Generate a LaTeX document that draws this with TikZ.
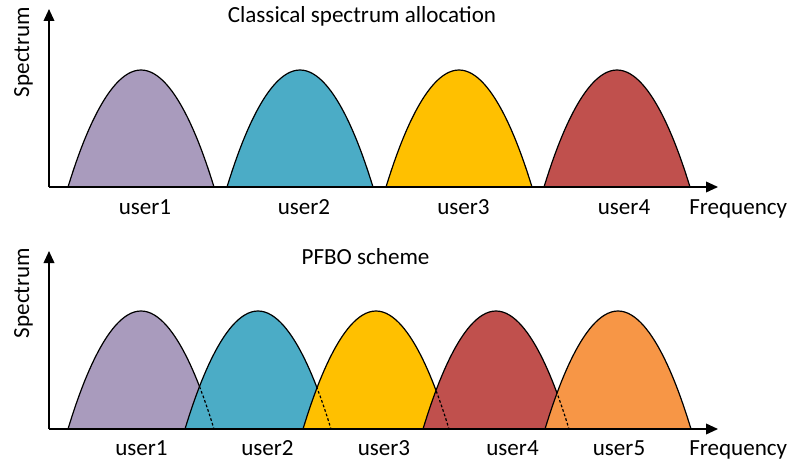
\documentclass[tikz,border=0pt]{standalone}
\usepackage{fontspec}
\setmainfont{Carlito}
\usetikzlibrary{arrows.meta}

\definecolor{userpurple}{HTML}{A99BBD}
\definecolor{userteal}{HTML}{4BACC6}
\definecolor{useryellow}{HTML}{FFC000}
\definecolor{userred}{HTML}{C0504D}
\definecolor{userorange}{HTML}{F79646}

\begin{document}
\begin{tikzpicture}[x=0.75pt, y=-0.75pt, >={Triangle[length=9pt, width=8pt]},
    hump/.style={draw=black, line width=0.9pt},
    overlap/.style={line width=0.9pt, dash pattern=on 2pt off 1.6pt},
    axis/.style={->, line width=1.2pt},
    every node/.style={font=\fontsize{17.3}{20}\selectfont, inner sep=0pt},
    lbl/.style={anchor=base}]

    \useasboundingbox (0,0) rectangle (788,463);

    % Top panel: classical allocation
    \filldraw[hump, fill=userpurple] (68,187) parabola bend (141,70) (214,187);
    \filldraw[hump, fill=userteal] (227,187) parabola bend (300,70) (373,187);
    \filldraw[hump, fill=useryellow] (386,187) parabola bend (459,70) (532,187);
    \filldraw[hump, fill=userred] (544,187) parabola bend (617,70) (690,187);

    \coordinate (topO) at (49,187);
    \coordinate (topY) at (49,9);
    \coordinate (topX) at (718,187);
    \draw[axis] (topO) -- (topY);
    \draw[axis] (topO) -- (topX);

    \node[lbl] (topTitle) at (362,22.5) {Classical spectrum allocation};
    \node[lbl, rotate=90] (topSpec) at (29,52) {Spectrum};
    \node[lbl] (topU1) at (145,215) {user1};
    \node[lbl] (topU2) at (304,215) {user2};
    \node[lbl] (topU3) at (463.5,215) {user3};
    \node[lbl] (topU4) at (624,215) {user4};
    \node[lbl, anchor=base west] (topFreq) at (689,215) {Frequency};

    % Bottom panel: PFBO scheme
    \filldraw[hump, fill=userpurple] (68,429) parabola bend (141,311) (214,429);
    \filldraw[hump, fill=userteal] (185,429) parabola bend (258,311) (331,429);
    \filldraw[hump, fill=useryellow] (303,429) parabola bend (376,311) (449,429);
    \filldraw[hump, fill=userred] (423,429) parabola bend (496,311) (569,429);
    \filldraw[hump, fill=userorange] (545,429) parabola bend (618,311) (691,429);

    % hidden edges of the overlapped bands
    \begin{scope}
        \clip (199.5,250) rectangle (230,430);
        \draw[overlap] (68,429) parabola bend (141,311) (214,429);
    \end{scope}
    \begin{scope}
        \clip (317,250) rectangle (350,430);
        \draw[overlap] (185,429) parabola bend (258,311) (331,429);
    \end{scope}
    \begin{scope}
        \clip (436,250) rectangle (470,430);
        \draw[overlap] (303,429) parabola bend (376,311) (449,429);
    \end{scope}
    \begin{scope}
        \clip (557,250) rectangle (590,430);
        \draw[overlap] (423,429) parabola bend (496,311) (569,429);
    \end{scope}

    \coordinate (botO) at (49,429);
    \coordinate (botY) at (49,251);
    \coordinate (botX) at (718,429);
    \draw[axis] (botO) -- (botY);
    \draw[axis] (botO) -- (botX);

    \node[lbl] (botTitle) at (365.5,264) {PFBO scheme};
    \node[lbl, rotate=90] (botSpec) at (29,293) {Spectrum};
    \node[lbl] (botU1) at (141.5,455.5) {user1};
    \node[lbl] (botU2) at (267.5,455.5) {user2};
    \node[lbl] (botU3) at (384,455.5) {user3};
    \node[lbl] (botU4) at (512.5,455.5) {user4};
    \node[lbl] (botU5) at (619,455.5) {user5};
    \node[lbl, anchor=base west] (botFreq) at (689,455.5) {Frequency};

\end{tikzpicture}
\end{document}
